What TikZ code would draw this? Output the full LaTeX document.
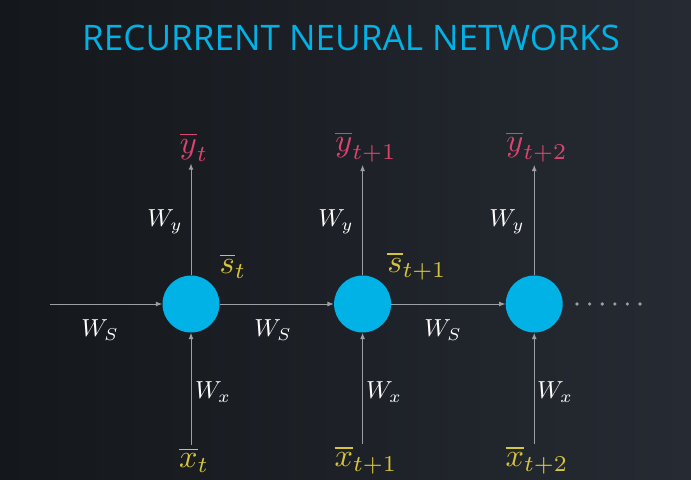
\documentclass[tikz,border=0pt]{standalone}
\usepackage{fontspec}
\setsansfont{Open Sans}
\usetikzlibrary{arrows.meta, positioning}
\definecolor{bgleft}{HTML}{14171B}
\definecolor{bgright}{HTML}{262B33}
\definecolor{unitblue}{HTML}{00B2E6}
\definecolor{outpink}{HTML}{DC4470}
\definecolor{inyellow}{HTML}{D6C43A}
\definecolor{wire}{HTML}{9C9FA3}

\begin{document}
\begin{tikzpicture}[x=0.025cm, y=0.025cm,
        unit/.style={circle, fill=unitblue, minimum size=1.425cm, inner sep=0pt},
        arr/.style={-{Latex[length=4.5pt,width=3.5pt]}, wire, line width=0.7pt},
        wt/.style={text=white, scale=1.75},
        outlbl/.style={text=outpink, scale=2.3, inner sep=0.5pt},
        inlbl/.style={text=inyellow, scale=2.3, inner sep=0.5pt},
        node distance=2.85cm]
      % background and frame
      \shade[left color=bgleft, right color=bgright] (0,0) rectangle (691,480);
      \useasboundingbox (0,0) rectangle (691,480);
      \node[text=unitblue, font=\sffamily\fontsize{25}{30}\selectfont] (title) at (351,442) {RECURRENT NEURAL NETWORKS};
      % hidden units
      \node[unit] (s0) at (191,176) {};
      \node[unit, right=of s0] (s1) {};
      \node[unit, right=of s1] (s2) {};
      % outputs and inputs
      \node[outlbl] (y0) at (194,333) {$\overline{y}_t$};
      \node[outlbl] (y1) at (366,333) {$\overline{y}_{t+1}$};
      \node[outlbl] (y2) at (537,333) {$\overline{y}_{t+2}$};
      \node[inlbl] (x0) at (194,20) {$\overline{x}_t$};
      \node[inlbl] (x1) at (366,20) {$\overline{x}_{t+1}$};
      \node[inlbl] (x2) at (537,20) {$\overline{x}_{t+2}$};
      \coordinate (start) at (50,176);
      % connectors
      \draw[arr] (start) -- (s0);
      \draw[arr] (s0) -- (s1);
      \draw[arr] (s1) -- (s2);
      \draw[arr] (s0) -- (s0 |- y0.south);
      \draw[arr] (s1) -- (s1 |- y1.south);
      \draw[arr] (s2) -- (s2 |- y2.south);
      \draw[arr] (s0 |- x0.north) -- (s0);
      \draw[arr] (s1 |- x1.north) -- (s1);
      \draw[arr] (s2 |- x2.north) -- (s2);
      % weights
      \node[wt] (wy0) at (165,258) {$W_y$};
      \node[wt] (wy1) at (336,258) {$W_y$};
      \node[wt] (wy2) at (507,258) {$W_y$};
      \node[wt] (wx0) at (213,88) {$W_x$};
      \node[wt] (wx1) at (384,88) {$W_x$};
      \node[wt] (wx2) at (555,88) {$W_x$};
      \node[wt] (ws0) at (100,150) {$W_S$};
      \node[wt] (ws1) at (273,150) {$W_S$};
      \node[wt] (ws2) at (443,150) {$W_S$};
      % states
      \node[inlbl] (st0) at (233,214) {$\overline{s}_t$};
      \node[inlbl] (st1) at (417,214) {$\overline{s}_{t+1}$};
      % continuation
      \foreach \i in {0,...,5}
        \fill[wire] (577+\i*12.6,176) circle (1.8);
    \end{tikzpicture}
\end{document}
